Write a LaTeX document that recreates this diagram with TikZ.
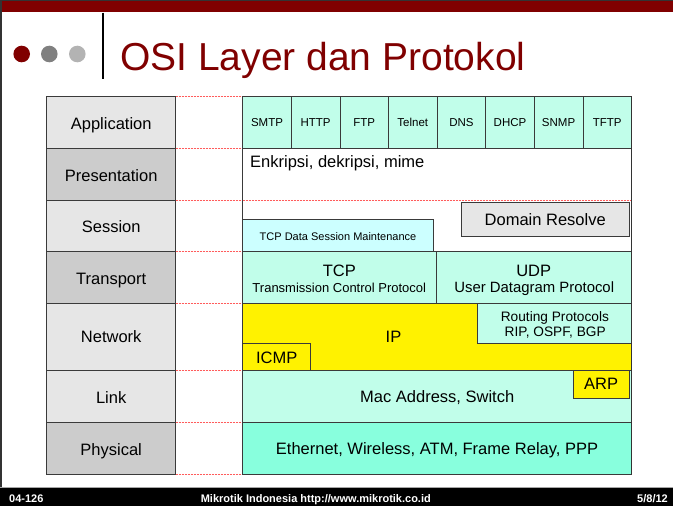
\documentclass[tikz,border=0pt]{standalone}
\usepackage{fontspec}
\setmainfont{Liberation Sans}
\definecolor{titlered}{HTML}{800000}
\definecolor{bulletgray}{HTML}{808080}
\definecolor{bulletlight}{HTML}{B3B3B3}
\definecolor{framegray}{HTML}{333333}
\definecolor{bordc}{HTML}{3A3A3A}
\definecolor{lbllight}{HTML}{E6E6E6}
\definecolor{lbldark}{HTML}{CCCCCC}
\definecolor{aqua}{HTML}{C1FEEA}
\definecolor{cyanl}{HTML}{CCFFFF}
\definecolor{physc}{HTML}{88FFDD}
\definecolor{dashred}{HTML}{FF5C5C}
\begin{document}
\begin{tikzpicture}[x=1pt,y=-1pt,
  box/.style={draw=bordc, line width=0.8pt, inner sep=0pt, outer sep=0pt, anchor=north west},
  lbltext/.style={font=\fontsize{16.5}{19}\selectfont, anchor=base, inner sep=0pt},
  midtext/.style={font=\fontsize{13}{15}\selectfont, anchor=base, inner sep=0pt},
  smalltext/.style={font=\fontsize{11.5}{13}\selectfont, text height=8.3pt, text depth=0pt},
  foottext/.style={font=\bfseries\fontsize{11}{13}\selectfont, text=white, inner sep=0pt},
  sepline/.style={draw=dashred, line width=0.8pt, dash pattern=on 2pt off 1pt},
  dot/.style={circle, inner sep=0pt, minimum size=16.6pt, fill=#1}
]
\useasboundingbox (0,0) rectangle (673,506);
\fill[white] (0,0) rectangle (673,506);
% header
\fill[framegray] (0,0) rectangle (673,1);
\fill[titlered] (0,1) rectangle (673,12);
\fill[framegray] (0,0) rectangle (2,506);
\node[dot=titlered] (b1) at (21.7,54) {};
\node[dot=bulletgray] (b2) at (49.3,54) {};
\node[dot=bulletlight] (b3) at (77.3,54) {};
\draw[line width=2pt, black] (102.7,12.7) -- (102.7,79.3);
\node[font=\fontsize{39}{42}\selectfont, text=titlered, anchor=base west, inner sep=0pt] (title) at (120,70) {OSI Layer dan Protokol};

% label column
\node[box, fill=lbllight, minimum width=129pt, minimum height=52pt] (Lapp) at (46.7,96) {};
\node[box, fill=lbldark, minimum width=129pt, minimum height=52pt] (Lpres) at (46.7,148) {};
\node[box, fill=lbllight, minimum width=129pt, minimum height=51pt] (Lsess) at (46.7,200) {};
\node[box, fill=lbldark, minimum width=129pt, minimum height=52pt] (Ltrans) at (46.7,251) {};
\node[box, fill=lbllight, minimum width=129pt, minimum height=67.5pt] (Lnet) at (46.7,303) {};
\node[box, fill=lbllight, minimum width=129pt, minimum height=51.5pt] (Llink) at (46.7,370.5) {};
\node[box, fill=lbldark, minimum width=129pt, minimum height=52pt] (Lphys) at (46.7,422) {};
\node[lbltext] (tapp) at (111.2,129) {Application};
\node[lbltext] (tpres) at (111.2,181) {Presentation};
\node[lbltext] (tsess) at (111.2,232.3) {Session};
\node[lbltext] (ttrans) at (111.2,284) {Transport};
\node[lbltext] (tnet) at (111.2,342.7) {Network};
\node[lbltext] (tlink) at (111.2,403.3) {Link};
\node[lbltext] (tphys) at (111.2,455) {Physical};

% dashed separators in the gap
\foreach \yy in {96,148,200,251,303,370.5,422,474}
  \draw[sepline] (175.7,\yy) -- (242.7,\yy);

% application cells
\foreach \nm/\txt [count=\i from 0] in {smtp/SMTP,http/HTTP,ftp/FTP,telnet/Telnet,dns/DNS,dhcp/DHCP,snmp/SNMP,tftp/TFTP}
  \node[box, fill=aqua, minimum width=48.6pt, minimum height=52pt, smalltext] (\nm) at ({242.7+48.6*\i},96) {\txt};

% presentation / session white area
\node[box, fill=white, minimum width=388.8pt, minimum height=103pt] (presess) at (242.7,148) {};
\draw[sepline] (242.7,200) -- (631.5,200);
\node[font=\fontsize{16.5}{19}\selectfont, anchor=base west, inner sep=0pt] (enk) at (250,167.5) {Enkripsi, dekripsi, mime};
\node[box, fill=cyanl, minimum width=190.6pt, minimum height=31.7pt] (tcpds) at (242.7,219.3) {};
\node[font=\fontsize{11}{13}\selectfont, inner sep=0pt] (tcpdst) at (338,236.5) {TCP Data Session Maintenance};
\node[box, fill=lbllight, minimum width=168.3pt, minimum height=34.4pt] (dom) at (461,202.3) {};
\node[lbltext] (domt) at (545.2,225.5) {Domain Resolve};

% transport
\node[box, fill=aqua, minimum width=193.3pt, minimum height=52pt] (tcp) at (242.7,251) {};
\node[box, fill=aqua, minimum width=195.5pt, minimum height=52pt] (udp) at (436,251) {};
\node[lbltext] (tcpt) at (339.3,276) {TCP};
\node[midtext] (tcpt2) at (339.3,292) {Transmission Control Protocol};
\node[lbltext] (udpt) at (533.7,276) {UDP};
\node[font=\fontsize{14.9}{17}\selectfont, anchor=base, inner sep=0pt] (udpt2) at (534.2,292) {User Datagram Protocol};

% network
\node[box, fill=yellow, minimum width=388.8pt, minimum height=67.5pt] (ip) at (242.7,303) {};
\node[box, fill=aqua, minimum width=153.8pt, minimum height=40.3pt] (rout) at (477.7,303) {};
\node[font=\fontsize{13.7}{16}\selectfont, anchor=base, inner sep=0pt] (routt) at (554.9,321.3) {Routing Protocols};
\node[font=\fontsize{13.7}{16}\selectfont, anchor=base, inner sep=0pt] (routt2) at (555.2,336.7) {RIP, OSPF, BGP};
\node[lbltext] (ipt) at (393.5,342) {IP};
\node[box, fill=yellow, minimum width=67.3pt, minimum height=27.2pt] (icmp) at (242.7,343.3) {};
\node[lbltext] (icmpt) at (276.7,363.3) {ICMP};

% link
\node[box, fill=aqua, minimum width=388.8pt, minimum height=51.5pt] (link) at (242.7,370.5) {};
\node[lbltext] (linkt) at (437.2,402.7) {Mac Address, Switch};
\node[box, fill=yellow, minimum width=56pt, minimum height=28.2pt] (arp) at (573.3,370.5) {};
\node[lbltext] (arpt) at (601.2,389.3) {ARP};

% physical
\node[box, fill=physc, minimum width=388.8pt, minimum height=52pt] (phys) at (242.7,422) {};
\node[lbltext] (physt) at (437,454.3) {Ethernet, Wireless, ATM, Frame Relay, PPP};
\draw[line width=1.2pt, framegray] (631.5,96) -- (631.5,474);

% footer
\draw[line width=1pt, gray!70] (0,487) -- (673,487);
\fill[black] (0,488) rectangle (673,506);
\node[foottext, anchor=base west] (f1) at (9,502) {04-126};
\node[foottext, anchor=base] (f2) at (315.8,502) {Mikrotik Indonesia http://www.mikrotik.co.id};
\node[foottext, anchor=base east] (f3) at (668,502) {5/8/12};
\end{tikzpicture}
\end{document}
